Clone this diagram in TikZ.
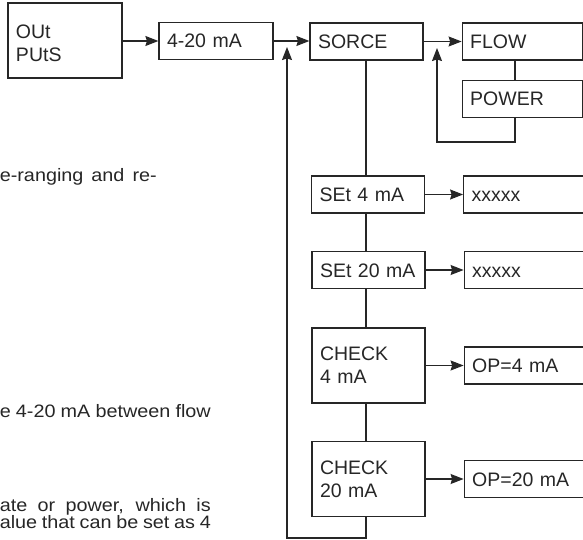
\documentclass[tikz,border=0pt]{standalone}
\usepackage{fontspec}
\setmainfont{Liberation Sans}
\newfontfamily\notefont[FakeStretch=1.1]{Liberation Sans}
\usetikzlibrary{positioning,arrows.meta}
\definecolor{ink}{HTML}{262626}
\begin{document}
\begin{tikzpicture}[
  x=1pt,y=-1pt,
  node distance=38pt,
  box/.style={draw=ink,line width=1.2pt,text=ink,
              font=\fontsize{19.5}{23}\selectfont,align=left,
              inner xsep=8pt,inner ysep=0pt,text width=97pt,
              minimum height=37pt},
  one/.style={box,text height=14pt,text depth=0pt},
  two/.style={box,minimum height=75pt},
  wide/.style={text width=104pt},
  note/.style={text=ink,font=\notefont\fontsize{18}{18}\selectfont,inner sep=0pt},
  link/.style={draw=ink,line width=1.2pt},
  arr/.style={link,-{Stealth[length=13pt,width=10pt,inset=1.5pt]}}
]
  \useasboundingbox (0,0) rectangle (583,540);
  \node[two,text width=98pt,text height=20pt] (out) at (65,40.5) {OUt\\PUtS};
  \node[one,text width=98pt] (ma) at (216,41) {4-20 mA};
  \node[one] (src) at (366.5,41.5) {SORCE};
  \node[one,wide,right=of src] (flow) {FLOW};
  \node[one,wide,below=19pt of flow] (power) {POWER};
  \node[one] (set4) at (368,194.5) {SEt 4 mA};
  \node[one,wide,right=of set4] (x4) {xxxxx};
  \node[one] (set20) at (368.5,270) {SEt 20 mA};
  \node[one,wide,right=of set20] (x20) {xxxxx};
  \node[two] (chk4) at (368.5,365.5) {CHECK\\4 mA};
  \node[one,wide,right=of chk4] (op4) {OP=4 mA};
  \node[two] (chk20) at (368.5,479) {CHECK\\20 mA};
  \node[one,wide,right=of chk20] (op20) {OP=20 mA};
  \coordinate (col) at (366,538);
  \coordinate (ret) at (287,47);
  \coordinate (pw) at (515,142);
  \coordinate (fb) at (437,48);
  \draw[arr] (out.east |- ma) -- (ma);
  \draw[arr] (ma.east) -- (src.west |- ma.east);
  \draw[arr] (src.east) -- (flow.west);
  \draw[link] (flow.south -| pw) -- (power.north -| pw);
  \draw[arr] (power.south -| pw) -- (pw) -| (fb);
  \draw[link] (src.south -| col) -- (set4.north -| col);
  \draw[link] (set4.south -| col) -- (set20.north -| col);
  \draw[link] (set20.south -| col) -- (chk4.north -| col);
  \draw[link] (chk4.south -| col) -- (chk20.north -| col);
  \draw[arr] (chk20.south -| col) -- (col) -| (ret);
  \draw[arr] (set4) -- (x4);
  \draw[arr] (set20) -- (x20);
  \draw[arr] (chk4) -- (op4);
  \draw[arr] (chk20) -- (op20);
  \node[note,anchor=base east] (n1) at (157,182) {\makebox[157pt][s]{e-ranging and re-}};
  \node[note,anchor=base east] (n2) at (211,417) {\makebox[211pt][s]{e 4-20 mA between flow}};
  \node[note,anchor=base east] (n3) at (211,511) {\makebox[211pt][s]{ate or power, which is}};
  \node[note,anchor=base east] (n4) at (211,528) {\makebox[211pt][s]{alue that can be set as 4}};
\end{tikzpicture}
\end{document}
